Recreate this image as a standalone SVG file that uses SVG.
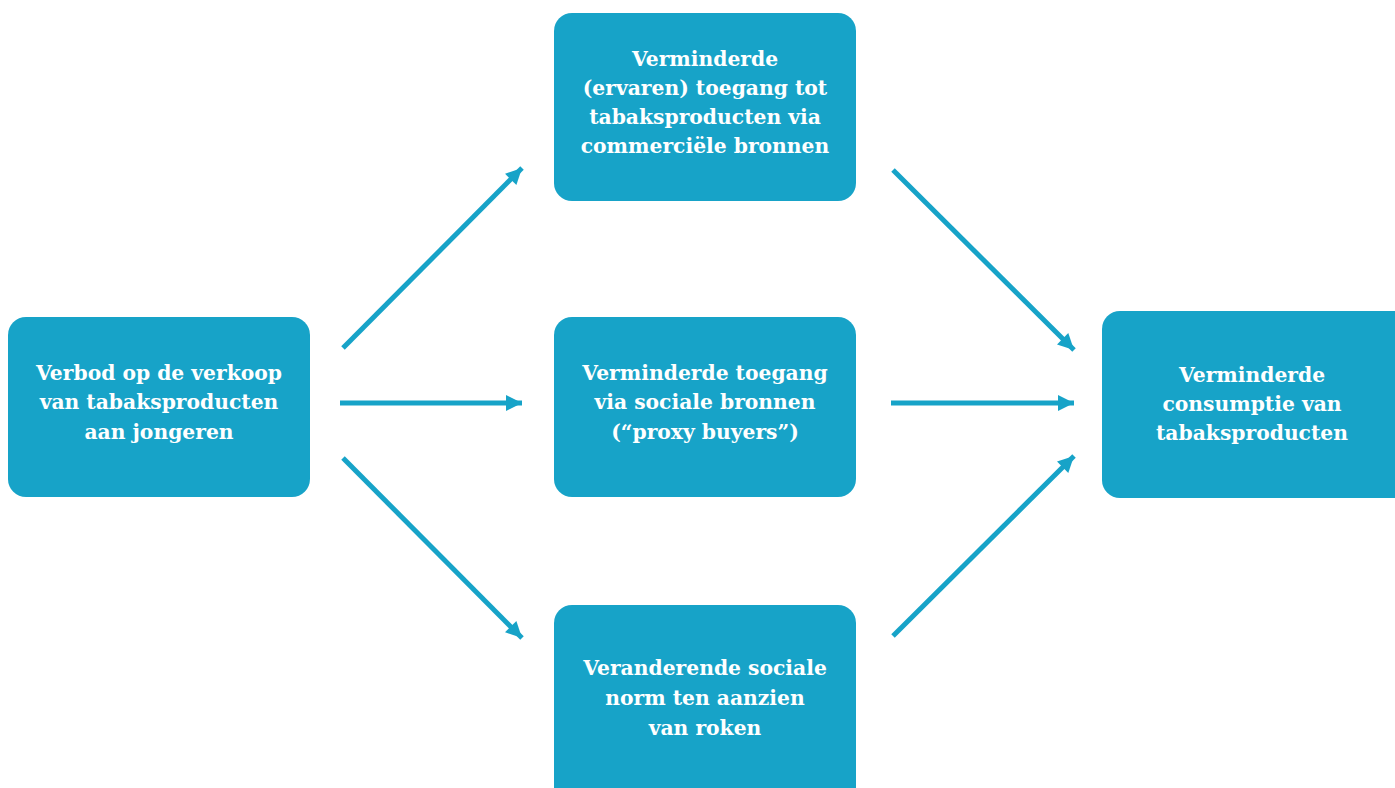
<svg xmlns="http://www.w3.org/2000/svg" width="1395" height="788" viewBox="0 0 1395 788">
<style>
.box{fill:#17a3c8;}
.t{font-family:"DejaVu Serif",serif;font-weight:bold;font-size:20.3px;fill:#ffffff;text-anchor:middle;}
.c{stroke:#17a3c8;stroke-width:5;fill:none;marker-end:url(#ah);}
</style>
<defs>
<marker id="ah" markerUnits="userSpaceOnUse" markerWidth="20" markerHeight="20" viewBox="0 0 20 20" refX="18" refY="10" orient="auto">
<path d="M2,2 L18,10 L2,18 Z" fill="#17a3c8"/>
</marker>
</defs>
<rect width="1395" height="788" fill="#ffffff"/>
<g id="connectors">
<line class="c" x1="343" y1="348" x2="522" y2="168"/>
<line class="c" x1="340" y1="403" x2="522" y2="403"/>
<line class="c" x1="343" y1="458" x2="522" y2="638"/>
<line class="c" x1="893" y1="170" x2="1074" y2="350"/>
<line class="c" x1="891" y1="403" x2="1074" y2="403"/>
<line class="c" x1="893" y1="636" x2="1074" y2="456"/>
</g>
<g id="node-verbod">
<rect class="box" x="8" y="317" width="302" height="180" rx="18"/>
<text class="t" x="159" y="380">Verbod op de verkoop</text>
<text class="t" x="159" y="409">van tabaksproducten</text>
<text class="t" x="159" y="439">aan jongeren</text>
</g>
<g id="node-commercieel">
<rect class="box" x="554" y="13" width="302" height="188" rx="18"/>
<text class="t" x="705" y="66">Verminderde</text>
<text class="t" x="705" y="95">(ervaren) toegang tot</text>
<text class="t" x="705" y="124">tabaksproducten via</text>
<text class="t" x="705" y="153">commerciële bronnen</text>
</g>
<g id="node-sociaal">
<rect class="box" x="554" y="317" width="302" height="180" rx="18"/>
<text class="t" x="705" y="380">Verminderde toegang</text>
<text class="t" x="705" y="409">via sociale bronnen</text>
<text class="t" x="705" y="439">(“proxy buyers”)</text>
</g>
<g id="node-norm">
<rect class="box" x="554" y="605" width="302" height="200" rx="18"/>
<text class="t" x="705" y="675">Veranderende sociale</text>
<text class="t" x="705" y="705">norm ten aanzien</text>
<text class="t" x="705" y="735">van roken</text>
</g>
<g id="node-consumptie">
<rect class="box" x="1102" y="311" width="310" height="187" rx="18"/>
<text class="t" x="1252" y="382">Verminderde</text>
<text class="t" x="1252" y="411">consumptie van</text>
<text class="t" x="1252" y="440">tabaksproducten</text>
</g>
</svg>
